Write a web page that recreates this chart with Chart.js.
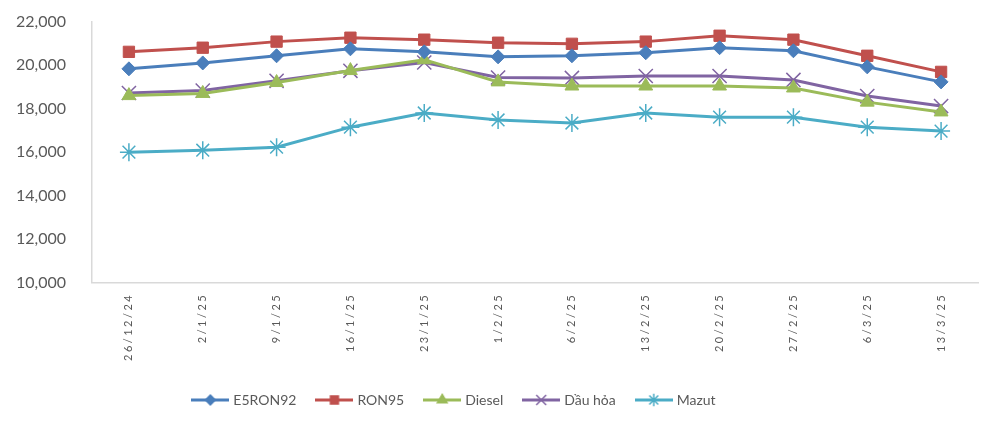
<!DOCTYPE html>
<html>
<head>
<meta charset="utf-8">
<script src="https://cdn.jsdelivr.net/npm/chart.js@4.4.1/dist/chart.umd.min.js"></script>
<style>
	html, body { margin: 0; padding: 0; background: #ffffff; }
	#wrap { width: 1000px; height: 426px; }
</style>
</head>
<body>
<div id="wrap"><canvas id="myCanvas"></canvas></div>
<script>
// ngày công bố giá
var dates = ['26/12/24', '2/1/25', '9/1/25', '16/1/25', '23/1/25', '1/2/25', '6/2/25', '13/2/25', '20/2/25', '27/2/25', '6/3/25', '13/3/25'];
var e5ron92 = [19830, 20100, 20430, 20750, 20610, 20380, 20430, 20570, 20800, 20660, 19920, 19230];
var ron95 = [20610, 20800, 21080, 21260, 21170, 21030, 20980, 21080, 21350, 21170, 20430, 19690];
var diesel = [18600, 18700, 19200, 19750, 20250, 19230, 19040, 19040, 19040, 18950, 18300, 17850];
var dauHoa = [18720, 18830, 19280, 19740, 20120, 19430, 19410, 19500, 19500, 19320, 18580, 18120];
var mazut = [16000, 16090, 16230, 17150, 17800, 17480, 17340, 17800, 17610, 17610, 17150, 16970];
var yTicks = [10000, 12000, 14000, 16000, 18000, 20000, 22000];

var textColor = '#595959';
var axisColor = '#d9d9d9';

// hình mẫu cho chú thích: đường + ký hiệu
function makeIcon(color, style, r) {
	var c = document.createElement('canvas');
	c.width = 38; c.height = 20;
	var g = c.getContext('2d');
	g.strokeStyle = color; g.fillStyle = color; g.lineWidth = 3;
	g.beginPath(); g.moveTo(0, 10); g.lineTo(38, 10); g.stroke();
	g.lineWidth = 1.5;
	Chart.helpers.drawPoint(g, {pointStyle: style, radius: r, rotation: 0, borderWidth: 1.5}, 19, 10);
	return c;
}

function series(label, data, color, style, r) {
	return {
		label: label,
		data: data,
		borderColor: color,
		backgroundColor: color,
		borderWidth: 3,
		pointStyle: style,
		pointRadius: r,
		pointBorderWidth: style == 'crossRot' || style == 'star' ? 1.5 : 1,
		pointBorderColor: color,
		pointBackgroundColor: color,
		legendIcon: makeIcon(color, style, r * 0.7),
		tension: 0,
		fill: false
	};
}

// giãn chữ cho nhãn trục hoành, dịch chú thích sang trái
var tweaks = {
	id: 'tweaks',
	afterLayout: function(chart) {
		chart.legend.left -= 42;
		chart.legend.right -= 42;
		var xs = chart.scales.x;
		if (xs._spaced) return;
		var orig = xs.drawLabels;
		xs.drawLabels = function(area) {
			chart.ctx.save();
			chart.ctx.letterSpacing = '2.5px';
			orig.call(this, area);
			chart.ctx.restore();
		};
		xs._spaced = true;
	}
};

var ctx = document.getElementById('myCanvas').getContext('2d');
var myChart = new Chart(ctx, {
	type: 'line',
	data: {
		labels: dates,
		datasets: [
			series('E5RON92', e5ron92, '#4a7ebb', 'rectRot', 7),
			series('RON95', ron95, '#c0504d', 'rect', 8),
			series('Diesel', diesel, '#9bbb59', 'triangle', 8),
			series('Dầu hỏa', dauHoa, '#8064a2', 'crossRot', 10),
			series('Mazut', mazut, '#4bacc6', 'star', 9)
		]
	},
	options: {
		responsive: true,
		maintainAspectRatio: false,
		animation: false,
		layout: { padding: { left: 16, right: 22, top: 4, bottom: 9 } },
		scales: {
			x: {
				offset: true,
				afterFit: function(s) { s.height += 20; },
				grid: { display: false, drawTicks: false },
				border: { display: true, color: axisColor, width: 1.5 },
				ticks: {
					color: textColor,
					font: { family: 'Lato', size: 11 },
					minRotation: 90,
					maxRotation: 90,
					autoSkip: false,
					padding: 10
				}
			},
			y: {
				min: 10000,
				max: 22000,
				afterBuildTicks: function(scale) {
					scale.ticks = yTicks.map(function(v) { return {value: v}; });
				},
				afterFit: function(s) { s.width = 76; },
				grid: { display: false, drawTicks: false },
				border: { display: true, color: axisColor, width: 1.5 },
				ticks: {
					color: textColor,
					font: { family: 'Lato', size: 16 },
					padding: 12,
					crossAlign: 'far',
					callback: function(v) { return v.toLocaleString('en-US'); }
				}
			}
		},
		plugins: {
			legend: {
				position: 'bottom',
				labels: {
					color: textColor,
					font: { family: 'Lato', size: 14 },
					usePointStyle: true,
					pointStyleWidth: 32,
					boxHeight: 14,
					padding: 22,
					generateLabels: function(chart) {
						return chart.data.datasets.map(function(ds, i) {
							return {
								text: ds.label,
								fontColor: textColor,
								pointStyle: ds.legendIcon,
								datasetIndex: i,
								lineWidth: 0,
								strokeStyle: ds.borderColor,
								fillStyle: ds.borderColor,
								hidden: false
							};
						});
					}
				}
			},
			tooltip: { enabled: false }
		}
	},
	plugins: [tweaks]
});
</script>
</body>
</html>
